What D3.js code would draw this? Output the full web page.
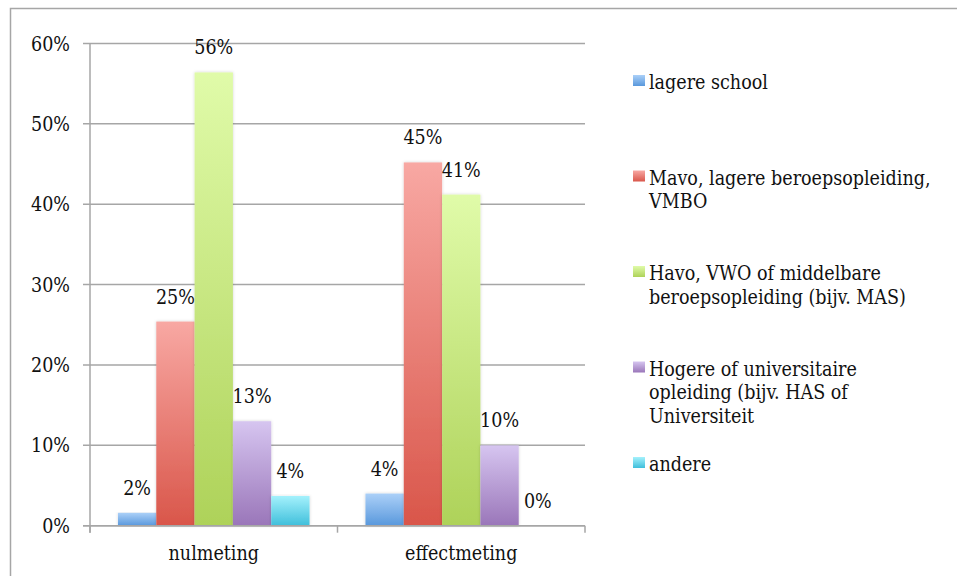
<!DOCTYPE html>
<html>
<head>
<meta charset="utf-8">
<script src="https://cdn.jsdelivr.net/npm/d3@7"></script>
<style>
  body { margin: 0; background: #fff; }
</style>
</head>
<body>
<div id="chart"></div>
<script>
let categories = ["nulmeting", "effectmeting"]
let seriesNames = [
    ["lagere school"],
    ["Mavo, lagere beroepsopleiding,", "VMBO"],
    ["Havo, VWO of middelbare", "beroepsopleiding (bijv. MAS)"],
    ["Hogere of universitaire", "opleiding (bijv. HAS of", "Universiteit"],
    ["andere"]
]
// one array per series, values per category
let lagereSchool = [0.016, 0.04]
let mavo = [0.254, 0.452]
let havo = [0.564, 0.412]
let hogere = [0.13, 0.10]
let andere = [0.037, 0.0]
let yTicks = [0, 0.1, 0.2, 0.3, 0.4, 0.5, 0.6]

let values = [lagereSchool, mavo, havo, hogere, andere]
let colorsTop = ["#abd0f8", "#f8a8a3", "#e0fba9", "#d6c5f0", "#a4f1fc"]
let colorsBottom = ["#5998dc", "#d9564a", "#aed259", "#9a76b9", "#3fbfdb"]

let font = "'DejaVu Serif Condensed', 'DejaVu Serif', serif"
let fontSize = "19.5px"

let width = 957, height = 576
let margin = {left: 90, right: 372, top: 43.5, bottom: 50.3}

let svg = d3.select("#chart").append("svg")
    .attr("width", width)
    .attr("height", height)
    .attr("font-family", font)
    .style("font-stretch", "condensed")
    .attr("fill", "#111")

let defs = svg.append("defs")
values.forEach(function (v, i) {
    let grad = defs.append("linearGradient")
        .attr("id", "grad" + i)
        .attr("x1", 0).attr("y1", 0).attr("x2", 0).attr("y2", 1)
    grad.append("stop").attr("offset", "0%").attr("stop-color", colorsTop[i])
    grad.append("stop").attr("offset", "100%").attr("stop-color", colorsBottom[i])
})
let shadow = defs.append("filter").attr("id", "shadow")
    .attr("x", "-20%").attr("y", "-5%").attr("width", "140%").attr("height", "110%")
shadow.append("feDropShadow")
    .attr("dx", 0).attr("dy", 0).attr("stdDeviation", 1.5)
    .attr("flood-color", "#000").attr("flood-opacity", 0.18)

// outer frame (top + left visible)
svg.append("path")
    .attr("d", "M10.5," + height + "V8.5H" + width)
    .attr("fill", "none")
    .attr("stroke", "#a6a6a6")
    .attr("stroke-width", 1.5)

let x0 = d3.scaleBand()
    .domain(categories)
    .range([margin.left, width - margin.right])
    .paddingInner(0)
    .paddingOuter(0)

let groupWidth = x0.bandwidth() * 0.774
let x1 = d3.scaleBand()
    .domain(d3.range(values.length))
    .range([0, groupWidth])

let y = d3.scaleLinear()
    .domain([0, 0.6])
    .range([height - margin.bottom, margin.top])

let fmt = d3.format(".0%")

// gridlines
svg.append("g")
    .selectAll("line")
    .data(yTicks)
    .join("line")
    .attr("x1", margin.left - 7)
    .attr("x2", width - margin.right)
    .attr("y1", d => y(d))
    .attr("y2", d => y(d))
    .attr("stroke", "#a6a6a6")
    .attr("stroke-width", 1.5)

// y axis line
svg.append("line")
    .attr("x1", margin.left).attr("x2", margin.left)
    .attr("y1", margin.top).attr("y2", y(0) + 7)
    .attr("stroke", "#a6a6a6").attr("stroke-width", 1.5)

// category separator ticks
let sepX = [margin.left].concat(categories.map(c => x0(c) + x0.bandwidth()))
svg.append("g").selectAll("line")
    .data(sepX)
    .join("line")
    .attr("x1", d => d).attr("x2", d => d)
    .attr("y1", y(0)).attr("y2", y(0) + 7)
    .attr("stroke", "#a6a6a6").attr("stroke-width", 1.5)

// y tick labels
svg.append("g").selectAll("text")
    .data(yTicks)
    .join("text")
    .attr("x", margin.left - 20)
    .attr("y", d => y(d) + 7)
    .attr("text-anchor", "end")
    .style("font-size", fontSize)
    .text(d => fmt(d))

// bars
let groups = svg.append("g").selectAll("g")
    .data(categories)
    .join("g")
    .attr("transform", c => "translate(" + (x0(c) + (x0.bandwidth() - groupWidth) / 2) + ",0)")

groups.selectAll("rect")
    .data((c, ci) => values.map((v, si) => ({s: si, v: v[ci]})))
    .join("rect")
    .filter(d => d.v > 0)
    .attr("x", d => x1(d.s))
    .attr("width", x1.bandwidth())
    .attr("y", d => y(d.v))
    .attr("height", d => y(0) - y(d.v))
    .attr("fill", d => "url(#grad" + d.s + ")")
    .attr("filter", "url(#shadow)")

// redraw zero line above bars
svg.append("line")
    .attr("x1", margin.left - 7).attr("x2", width - margin.right)
    .attr("y1", y(0)).attr("y2", y(0))
    .attr("stroke", "#a6a6a6").attr("stroke-width", 1.5)

// value labels
groups.selectAll("text.val")
    .data((c, ci) => values.map((v, si) => ({s: si, v: v[ci]})))
    .join("text")
    .attr("class", "val")
    .attr("x", d => x1(d.s) + x1.bandwidth() / 2)
    .attr("y", d => y(d.v) - 18)
    .attr("text-anchor", "middle")
    .style("font-size", fontSize)
    .text(d => fmt(d.v))

// category labels
svg.append("g").selectAll("text")
    .data(categories)
    .join("text")
    .attr("x", c => x0(c) + x0.bandwidth() / 2)
    .attr("y", 560)
    .attr("text-anchor", "middle")
    .style("font-size", fontSize)
    .text(c => c)

// legend
let legend = svg.append("g").selectAll("g")
    .data(seriesNames)
    .join("g")
    .attr("transform", (d, i) => "translate(633," + (89 + i * 95.5) + ")")

legend.append("rect")
    .attr("x", 0).attr("y", -14)
    .attr("width", 12).attr("height", 11)
    .attr("fill", (d, i) => "url(#grad" + i + ")")

legend.append("text")
    .attr("x", 16)
    .style("font-size", fontSize)
    .selectAll("tspan")
    .data(d => d)
    .join("tspan")
    .attr("x", 16)
    .attr("dy", (d, i) => i === 0 ? 0 : 23.5)
    .text(d => d)
</script>
</body>
</html>
